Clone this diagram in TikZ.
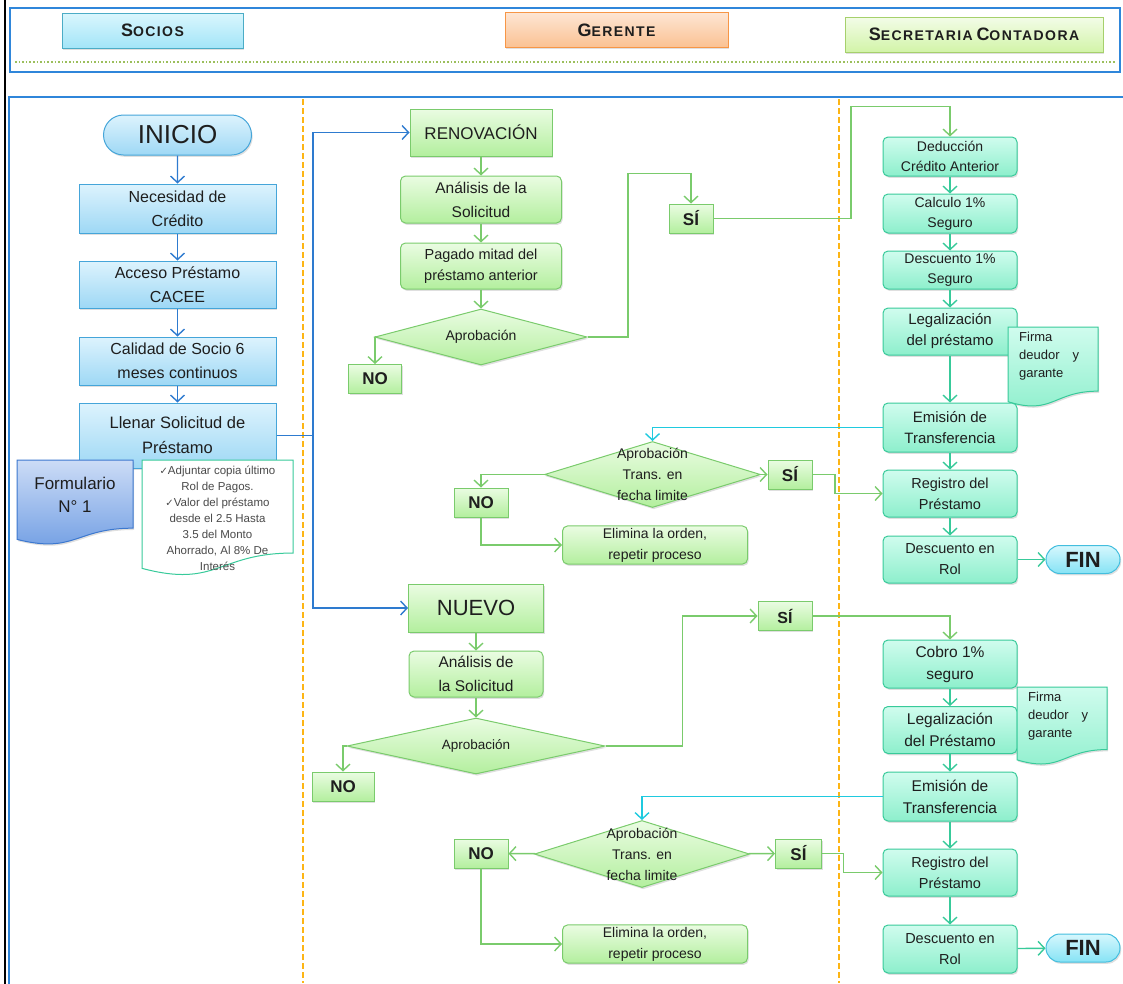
\documentclass[tikz,border=0pt]{standalone}
\usepackage{fontspec}
\setmainfont{Liberation Sans}
\newfontfamily\hdrfont{Liberation Sans}[LetterSpace=10]
\newfontfamily\symfont{DejaVu Sans}
\usetikzlibrary{arrows.meta,positioning,shapes.geometric,shapes.misc,calc,shadows}
\definecolor{txt}{HTML}{1E1E1E}
\definecolor{notetxt}{HTML}{4A4A4A}
\definecolor{socbd}{HTML}{45A5D9}
\definecolor{soctop}{HTML}{DDF3FD}
\definecolor{socbot}{HTML}{9ED8F5}
\definecolor{formbd}{HTML}{3C78CF}
\definecolor{formtop}{HTML}{CCDCF6}
\definecolor{formbot}{HTML}{6E9CE3}
\definecolor{blueln}{HTML}{2E7BCF}
\definecolor{grnbd}{HTML}{7ACB6C}
\definecolor{grntop}{HTML}{EAFCE2}
\definecolor{grnbot}{HTML}{B3EF9E}
\definecolor{tealbd}{HTML}{38CA9A}
\definecolor{tealtop}{HTML}{D0FCEE}
\definecolor{tealbot}{HTML}{8DEFCC}
\definecolor{finbd}{HTML}{43BEDE}
\definecolor{fintop}{HTML}{D6F7FD}
\definecolor{finbot}{HTML}{86E3F5}
\definecolor{cyanln}{HTML}{1FCADF}
\definecolor{lanecol}{HTML}{FDB515}
\definecolor{framecol}{HTML}{2F86DA}
\definecolor{dotcol}{HTML}{9CBF5C}
\definecolor{hsocbd}{HTML}{4BACC6}
\definecolor{hsoctop}{HTML}{DAF6FD}
\definecolor{hsocbot}{HTML}{A3E5F8}
\definecolor{gerbd}{HTML}{F79646}
\definecolor{gertop}{HTML}{FDE6D4}
\definecolor{gerbot}{HTML}{FBC192}
\definecolor{secbd}{HTML}{A6D06C}
\definecolor{sectop}{HTML}{F3FCE8}
\definecolor{secbot}{HTML}{D2F4A8}
\newcommand{\fsz}[2]{\fontsize{#1}{#2}\selectfont}
\newcommand{\smcap}[2]{{\fsz{18}{20}#1}{\fsz{14}{20}#2}}
\newcommand{\ck}{{\symfont\fsz{10}{16}✓}}
% document sheet with a wavy lower edge: corner, width, height, style
\newcommand{\docpath}[4]{%
  \path[#4] let \p1=(#1) in (\p1) -- ({\x1+#2pt},{\y1})
    -- ({\x1+#2pt},{\y1-0.802*#3pt})
    .. controls ({\x1+0.5*#2pt},{\y1-0.802*#3pt}) and ({\x1+0.5*#2pt},{\y1-1.107*#3pt})
    .. ({\x1},{\y1-0.934*#3pt}) -- cycle;}
\tikzset{
  base/.style={line width=1pt,align=center,text=txt,inner sep=2pt,
               drop shadow={shadow xshift=1.2pt,shadow yshift=-1.8pt,opacity=.25}},
  hdrbox/.style={base,minimum height=35pt,font=\hdrfont\bfseries},
  socbox/.style={base,draw=socbd,top color=soctop,bottom color=socbot,
                 minimum width=197pt,font=\fsz{16}{24}},
  socend/.style={socbox,rounded rectangle,minimum width=152pt,minimum height=40pt,
                 font=\fsz{26}{26}},
  grnbox/.style={base,draw=grnbd,top color=grntop,bottom color=grnbot},
  grnround/.style={grnbox,rounded corners=5pt},
  grndia/.style={grnbox,diamond,inner sep=0pt},
  dialabel/.style={font=\fsz{14}{21},align=center,text=txt},
  ansbox/.style={grnbox,minimum height=29pt,font=\bfseries\fsz{17}{17}},
  tealbox/.style={base,draw=tealbd,top color=tealtop,bottom color=tealbot,
                  rounded corners=5pt,minimum width=134pt,font=\fsz{15}{21}},
  finend/.style={base,draw=finbd,top color=fintop,bottom color=finbot,
                 rounded rectangle,minimum width=78pt,minimum height=28pt,
                 font=\bfseries\fsz{22}{22}},
  formdoc/.style={draw=formbd,line width=1pt,top color=formtop,bottom color=formbot,
                  drop shadow={shadow xshift=1.2pt,shadow yshift=-1.8pt,opacity=.25}},
  notedoc/.style={draw=tealbd,line width=1pt,fill=white},
  firmadoc/.style={draw=tealbd,line width=1pt,top color=tealtop,bottom color=tealbot,
                   drop shadow={shadow xshift=1.2pt,shadow yshift=-1.8pt,opacity=.25}},
  firmatxt/.style={anchor=north west,align=left,text=txt,inner xsep=11pt,
                   inner ysep=5pt,font=\fsz{13}{18}},
  bluearr/.style={draw=blueln,line width=1.4pt,-{Straight Barb[length=6.5pt,width=14pt]}},
  grnarr/.style={draw=grnbd,line width=1.4pt,-{Straight Barb[length=6.5pt,width=14pt]}},
  tealarr/.style={draw=tealbd,line width=1.4pt,-{Straight Barb[length=6.5pt,width=14pt]}},
  cyanarr/.style={draw=cyanln,line width=1.4pt,-{Straight Barb[length=6.5pt,width=14pt]}},
  lane/.style={draw=lanecol,line width=2pt,dash pattern=on 6pt off 3pt},
  frame/.style={draw=framecol,line width=1.8pt}
}

\begin{document}
\begin{tikzpicture}[x=1pt,y=-1pt]
  \useasboundingbox (0,0) rectangle (1123,983);
  % frames and swim lanes
  \draw[line width=1.5pt] (5,-2) -- (5,985);
  \draw[frame] (10,8) rectangle (1120,72);
  \draw[dotcol,line width=1.6pt,dotted] (15,62) -- (1115,62);
  \draw[frame] (1128,97) -- (9,97) -- (9,986);
  \draw[lane] (303,99) -- (303,983);
  \draw[lane] (839,99) -- (839,983);

  % lane titles
  \node[hdrbox,draw=hsocbd,top color=hsoctop,bottom color=hsocbot,minimum width=181pt]
    (socios) at (152.5,30.5) {\smcap{S}{OCIOS}};
  \node[hdrbox,draw=gerbd,top color=gertop,bottom color=gerbot,minimum width=223pt]
    (gerente) at (616.5,30) {\smcap{G}{ERENTE}};
  \node[hdrbox,draw=secbd,top color=sectop,bottom color=secbot,minimum width=258pt]
    (secretaria) at (974,34.5) {\smcap{S}{ECRETARIA} \smcap{C}{ONTADORA}};

  % socios
  \node[socend] (inicio) at (177.5,135) {INICIO};
  \node[socbox,minimum height=49pt] (nec) at (177.5,208.5) {Necesidad de\\Crédito};
  \node[socbox,minimum height=47pt] (acc) at (177.5,284.5) {Acceso Préstamo\\CACEE};
  \node[socbox,minimum height=48pt] (cal) at (177.5,361) {Calidad de Socio 6\\meses continuos};
  \node[socbox,minimum height=65pt,font=\fsz{16.5}{25}] (llen) at (177.5,435.5)
    {Llenar Solicitud de\\Préstamo};
  \foreach \a/\b in {inicio/nec,nec/acc,acc/cal,cal/llen}
    \draw[bluearr] (\a) -- (\b);

  \coordinate (form) at (17,460);
  \docpath{form}{116}{85}{formdoc}
  \node[font=\fsz{17}{23},text=txt,align=center] (formtxt) at (75,495) {Formulario\\N° 1};
  \coordinate (req) at (142,460);
  \docpath{req}{151}{116}{notedoc}
  \node[font=\fsz{11.5}{16},text=notetxt,align=center] (reqtxt) at (217.5,518)
    {\ck Adjuntar copia último\\Rol de Pagos.\\\ck Valor del préstamo\\desde el 2.5 Hasta\\3.5 del Monto\\Ahorrado, Al 8\% De\\Interés};

  % gerente: renovacion
  \node[grnbox,minimum width=142pt,minimum height=47pt,font=\fsz{17}{17}] (reno) at (481,132.5) {RENOVACIÓN};
  \node[grnround,minimum width=161pt,minimum height=47pt,font=\fsz{15.5}{24}] (ana1) at (481,199.5) {Análisis de la\\Solicitud};
  \node[grnround,minimum width=161pt,minimum height=46pt,font=\fsz{14.5}{21}] (pag) at (481,266) {Pagado mitad del\\préstamo anterior};
  \node[grndia,minimum width=212pt,minimum height=56pt,
        label={[dialabel]center:Aprobación}] (apr1) at (481,337) {};
  \node[ansbox,minimum width=53pt] (no1) at (375,379) {NO};
  \node[ansbox,minimum width=44pt] (si1) at (691,218.5) {SÍ};
  \foreach \a/\b in {reno/ana1,ana1/pag,pag/apr1}
    \draw[grnarr] (\a) -- (\b);
  \draw[grnarr] (apr1.west) -| (no1.north);
  \draw[grnarr] (apr1.east) -- ++(40.5,0) |- ($(si1.north)+(0,-30)$) -- (si1.north);

  \node[grndia,minimum width=216pt,minimum height=66pt,
        label={[dialabel]center:{Aprobación\\Trans. en\\fecha limite}}]
    (apr2) at (652.5,474.5) {};
  \node[ansbox,minimum width=54pt] (no2) at (481,502.5) {NO};
  \node[ansbox,minimum width=44pt] (si2) at (790,474.5) {SÍ};
  \node[grnround,minimum width=185pt,minimum height=38pt,font=\fsz{14}{21}] (elim1) at (655,545) {Elimina la orden,\\repetir proceso};
  \draw[grnarr] (apr2.west) -| (no2.north);
  \draw[grnarr] (apr2) -- (si2);
  \draw[grnarr] (no2.south) |- (elim1.west);

  % gerente: nuevo
  \node[grnbox,minimum width=135pt,minimum height=48pt,font=\fsz{22}{22}] (nuevo) at (476,608) {NUEVO};
  \node[grnround,minimum width=134pt,minimum height=46pt,font=\fsz{15.5}{24}] (ana2) at (476,674) {Análisis de\\la Solicitud};
  \node[grndia,minimum width=258pt,minimum height=56pt,
        label={[dialabel,font=\fsz{13.5}{14}]center:Aprobación}] (apr3) at (476,746) {};
  \node[ansbox,minimum width=62pt] (no3) at (343,786.5) {NO};
  \node[ansbox,minimum width=54pt,font=\bfseries\fsz{16}{16}] (si3) at (785,616) {SÍ};
  \foreach \a/\b in {nuevo/ana2,ana2/apr3}
    \draw[grnarr] (\a) -- (\b);
  \draw[grnarr] (apr3.west) -| (no3.north);
  \draw[grnarr] (apr3.east) -- ++(77,0) |- (si3.west);

  \node[grndia,minimum width=215pt,minimum height=67pt,
        label={[dialabel]center:{Aprobación\\Trans. en\\fecha limite}}]
    (apr4) at (642,854) {};
  \node[ansbox,minimum width=54pt] (no4) at (481,853.5) {NO};
  \node[ansbox,minimum width=46pt] (si4) at (798.5,853.5) {SÍ};
  \node[grnround,minimum width=185pt,minimum height=38pt,font=\fsz{14}{21}] (elim2) at (655,944) {Elimina la orden,\\repetir proceso};
  \draw[grnarr] (apr4) -- (no4);
  \draw[grnarr] (apr4) -- (si4);
  \draw[grnarr] (no4.south) |- (elim2.west);

  % secretaria contadora: renovacion
  \node[tealbox,minimum height=39pt,font=\fsz{14}{20}] (ded) at (950,156.5) {Deducción\\Crédito Anterior};
  \node[tealbox,minimum height=39pt,font=\fsz{14}{20}] (calc) at (950,213.5) {Calculo 1\%\\Seguro};
  \node[tealbox,minimum height=38pt,font=\fsz{14}{20}] (desc) at (950,270) {Descuento 1\%\\Seguro};
  \node[tealbox,minimum height=47pt] (legal1) at (950,331.5) {Legalización\\del préstamo};
  \coordinate (firma1) at (1008,327);
  \docpath{firma1}{90}{80}{firmadoc}
  \node[firmatxt] (firma1txt) at (firma1) {Firma\\deudor\quad y\\garante};
  \node[tealbox,minimum height=49pt] (emi1) at (950,427.5) {Emisión de\\Transferencia};
  \node[tealbox,minimum height=47pt,font=\fsz{14.5}{21}] (reg1) at (950,493.5) {Registro del\\Préstamo};
  \node[tealbox,minimum height=47pt,font=\fsz{14.5}{21}] (dro1) at (950,559.5) {Descuento en\\Rol};
  \node[finend] (fin1) at (1083,559.5) {FIN};
  \foreach \a/\b in {ded/calc,calc/desc,desc/legal1,legal1/emi1,emi1/reg1,reg1/dro1,dro1/fin1}
    \draw[tealarr] (\a) -- (\b);
  \draw[grnarr] (si1.east) -- ++(137.5,0) |- ($(ded.north)+(0,-30)$) -- (ded.north);
  \draw[cyanarr] (emi1.west) -| (apr2.north);
  \draw[grnarr] (si2.east) -- ++(22.5,0) |- (reg1.west);

  % secretaria contadora: nuevo
  \node[tealbox,minimum height=48pt,font=\fsz{15.5}{22}] (cob) at (950,664) {Cobro 1\%\\seguro};
  \node[tealbox,minimum height=47pt,font=\fsz{15.5}{22}] (legal2) at (950,730) {Legalización\\del Préstamo};
  \coordinate (firma2) at (1017,687);
  \docpath{firma2}{90}{78}{firmadoc}
  \node[firmatxt] (firma2txt) at (firma2) {Firma\\deudor\quad y\\garante};
  \node[tealbox,minimum height=49pt,font=\fsz{15.5}{22}] (emi2) at (950,796.5) {Emisión de\\Transferencia};
  \node[tealbox,minimum height=47pt,font=\fsz{14.5}{21}] (reg2) at (950,872.5) {Registro del\\Préstamo};
  \node[tealbox,minimum height=48pt,font=\fsz{14.5}{21}] (dro2) at (950,949) {Descuento en\\Rol};
  \node[finend] (fin2) at (1083,948) {FIN};
  \foreach \a/\b in {cob/legal2,legal2/emi2,emi2/reg2,reg2/dro2,dro2/fin2}
    \draw[tealarr] (\a) -- (\b);
  \draw[grnarr] (si3.east) -| (cob.north);
  \draw[cyanarr] (emi2.west) -| (apr4.north);
  \draw[grnarr] (si4.east) -- ++(21.5,0) |- (reg2.west);

  % fork from the request form
  \coordinate (fork) at (313,435.5);
  \draw[bluearr] (llen.east) -- (fork) |- (reno.west);
  \draw[bluearr] (fork) |- (nuevo.west);
\end{tikzpicture}
\end{document}
